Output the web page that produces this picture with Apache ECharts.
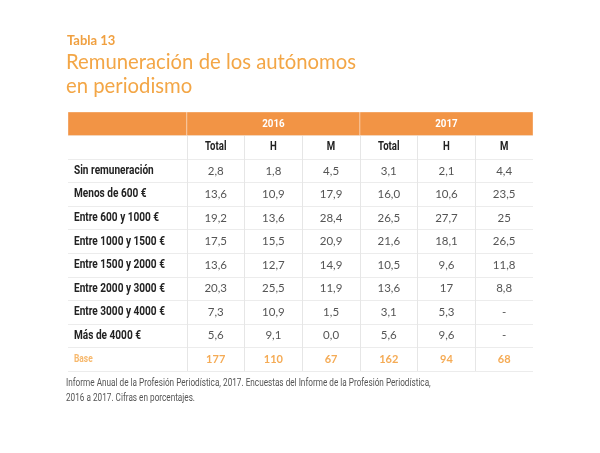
<!DOCTYPE html>
<html>
<head>
<meta charset="utf-8">
<script src="https://cdn.jsdelivr.net/npm/echarts@6/dist/echarts.min.js"></script>
<style>
  html, body { margin: 0; background: #fff; }
  #chart { width: 600px; height: 453px; }
</style>
</head>
<body>
<div id="chart"></div>
<script>
// table rows and columns
const rowLabels = ['Sin remuneración', 'Menos de 600 €', 'Entre 600 y 1000 €', 'Entre 1000 y 1500 €',
  'Entre 1500 y 2000 €', 'Entre 2000 y 3000 €', 'Entre 3000 y 4000 €', 'Más de 4000 €']
const years = ['2016', '2017']
const subCols = ['Total', 'H', 'M']

// values as printed (percentages)
const total2016 = ['2,8', '13,6', '19,2', '17,5', '13,6', '20,3', '7,3', '5,6']
const men2016 = ['1,8', '10,9', '13,6', '15,5', '12,7', '25,5', '10,9', '9,1']
const women2016 = ['4,5', '17,9', '28,4', '20,9', '14,9', '11,9', '1,5', '0,0']
const total2017 = ['3,1', '16,0', '26,5', '21,6', '10,5', '13,6', '3,1', '5,6']
const men2017 = ['2,1', '10,6', '27,7', '18,1', '9,6', '17', '5,3', '9,6']
const women2017 = ['4,4', '23,5', '25', '26,5', '11,8', '8,8', null, null]
const base2016 = [177, 110, 67]
const base2017 = [162, 94, 68]

const LABEL_SPAN = 2.06
const ORANGE = '#f29445'
const rows = ['band', 'head'].concat(rowLabels, ['Base'])
const columns = [total2016, men2016, women2016, total2017, men2017, women2017]
const bases = base2016.concat(base2017)

// [x, row, text, kind]
let cellData = []
rowLabels.forEach((l, r) => cellData.push([-LABEL_SPAN, r + 2, l, 'label']))
cellData.push([-LABEL_SPAN, rows.length - 1, 'Base', 'baseLabel'])
columns.forEach((col, c) => {
  cellData.push([c + 0.5, 1, subCols[c % 3], 'head'])
  col.forEach((v, r) => {
    cellData.push([c + 0.5, r + 2, v == null ? '-' : v, 'val'])
  })
  cellData.push([c + 0.5, rows.length - 1, String(bases[c]), 'base'])
})
const bandData = [[-LABEL_SPAN, 0, 0, ''], [0, 3, 0, years[0]], [3, 6, 0, years[1]]]

const cellStyle = {
  label: { fontFamily: 'Roboto', fontWeight: 'bold', fontSize: 12, fill: '#222', scale: 0.84, align: 'left', dx: 6 },
  baseLabel: { fontFamily: 'Roboto', fontWeight: 'bold', fontSize: 10, fill: '#f7b86c', scale: 0.84, align: 'left', dx: 6 },
  head: { fontFamily: 'Roboto', fontWeight: 'bold', fontSize: 12, fill: '#222', scale: 0.8, align: 'center', dx: 0 },
  val: { fontFamily: 'Lato', fontWeight: 'normal', fontSize: 11.5, fill: '#555', scale: 1, align: 'center', dx: 0 },
  base: { fontFamily: 'Lato', fontWeight: 'bold', fontSize: 11, fill: '#f5ab55', scale: 1, align: 'center', dx: 0 }
}

let option = {
  animation: false,
  title: [
    {
      text: 'Tabla 13', left: 67, top: 34, padding: 0,
      textStyle: { fontFamily: 'Lato', fontWeight: 'bold', fontSize: 13, color: '#f0a040' }
    },
    {
      text: 'Remuneración de los autónomos\nen periodismo', left: 66, top: 50, padding: 0,
      textStyle: { fontFamily: 'Lato', fontWeight: 'normal', fontSize: 20.3, lineHeight: 24, color: '#f3a646' }
    }
  ],
  graphic: [
    {
      type: 'text', x: 66, y: 376, scaleX: 0.82,
      style: {
        text: 'Informe Anual de la Profesión Periodística, 2017. Encuestas del Informe de la Profesión Periodística,\n2016 a 2017. Cifras en porcentajes.',
        fontFamily: 'Roboto', fontSize: 10, lineHeight: 15, fill: '#555'
      }
    }
  ],
  grid: { left: 68, right: 67, top: 112, bottom: 82 },
  xAxis: {
    type: 'value', min: -LABEL_SPAN, max: 6,
    axisLine: { show: false }, axisTick: { show: false }, axisLabel: { show: false }, splitLine: { show: false }
  },
  yAxis: {
    type: 'category', data: rows, inverse: true,
    axisLine: { show: false }, axisTick: { show: false }, axisLabel: { show: false },
    splitLine: { show: true, interval: 0, lineStyle: { color: '#ececec' } }
  },
  series: [
    {
      type: 'scatter', data: [], z: 1,
      markLine: {
        z: 1, silent: true, symbol: 'none', label: { show: false },
        lineStyle: { color: '#e6e6e6', type: 'solid', width: 1 },
        data: [0, 1, 2, 3, 4, 5].map(x => ({ xAxis: x }))
      }
    },
    {
      type: 'custom', z: 3, data: bandData, encode: { x: [0, 1], y: 2 },
      renderItem (params, api) {
        const p0 = api.coord([api.value(0), 0])
        const p1 = api.coord([api.value(1), 0])
        const h = api.size([0, 1])[1]
        return {
          type: 'group',
          children: [
            {
              type: 'rect',
              shape: { x: p0[0], y: p0[1] - h / 2, width: p1[0] - p0[0], height: h },
              style: { fill: ORANGE, stroke: 'rgba(255,255,255,0.35)', lineWidth: 1 }
            },
            {
              type: 'text', x: (p0[0] + p1[0]) / 2, y: p0[1], scaleX: 0.85,
              style: {
                text: bandData[params.dataIndex][3], align: 'center', verticalAlign: 'middle',
                fontFamily: 'Roboto', fontWeight: 'bold', fontSize: 11.5, fill: '#fff'
              }
            }
          ]
        }
      }
    },
    {
      type: 'custom', z: 4, data: cellData, encode: { x: 0, y: 1 },
      renderItem (params, api) {
        const item = cellData[params.dataIndex]
        const s = cellStyle[item[3]]
        const p = api.coord([api.value(0), api.value(1)])
        return {
          type: 'text', x: p[0] + s.dx, y: p[1], scaleX: s.scale,
          style: {
            text: item[2], align: s.align, verticalAlign: 'middle',
            fontFamily: s.fontFamily, fontWeight: s.fontWeight, fontSize: s.fontSize, fill: s.fill
          }
        }
      }
    }
  ]
}

var myChart = echarts.init(document.getElementById('chart'))
myChart.setOption(option)
</script>
</body>
</html>
